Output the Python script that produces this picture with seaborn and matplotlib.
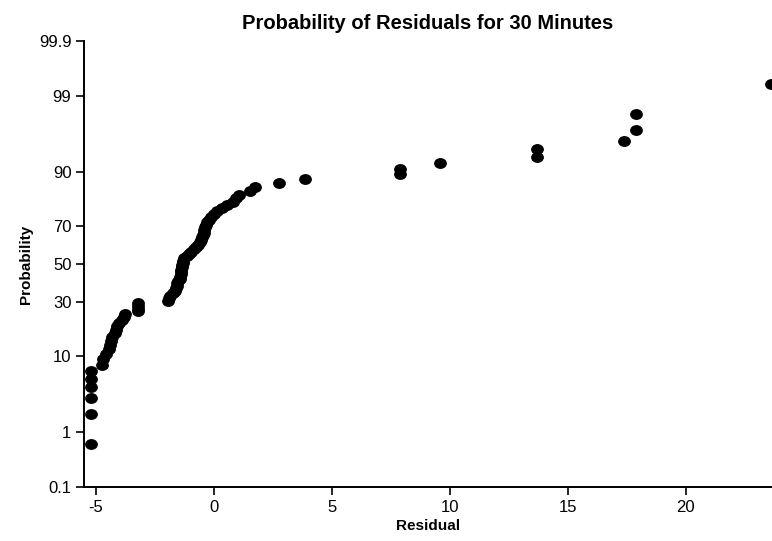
import numpy as np
import matplotlib
matplotlib.use('Agg')
import matplotlib.pyplot as plt
from matplotlib.path import Path
import seaborn as sns
from statistics import NormalDist

# sorted residuals (30 minute run)
residuals = [
    -5.2, -5.2, -5.2, -5.2, -5.2, -5.2,
    -4.75, -4.7, -4.55, -4.45, -4.4, -4.35, -4.3, -4.2, -4.15, -4.1,
    -4.0, -3.9, -3.8, -3.75,
    -3.2, -3.2, -3.2, -3.2,
    -1.95, -1.9, -1.85, -1.75, -1.65, -1.6, -1.55, -1.55, -1.5, -1.45,
    -1.45, -1.4, -1.4, -1.38, -1.35, -1.35, -1.3, -1.3, -1.25, -1.15,
    -1.05, -0.95, -0.85, -0.75, -0.65, -0.6, -0.55, -0.5, -0.45, -0.42,
    -0.4, -0.38, -0.35, -0.3, -0.2, -0.1, 0.0, 0.15, 0.35, 0.55,
    0.8, 0.95, 1.05, 1.55, 1.75, 2.75, 3.85, 7.9, 7.9, 9.6,
    13.7, 13.7, 17.4, 17.9, 17.9, 23.6,
]
prob_ticks = [0.1, 1, 10, 30, 50, 70, 90, 99, 99.9]
prob_labels = ['0.1', '1', '10', '30', '50', '70', '90', '99', '99.9']
x_ticks = [-5, 0, 5, 10, 15, 20]

n = len(residuals)
# plotting positions (i - 0.5) / n in percent
probability = [(i + 0.5) / n * 100 for i in range(n)]

nd = NormalDist()


def probit(p):
    p = np.clip(np.asarray(p, float), 1e-9, 100 - 1e-9)
    return np.vectorize(lambda v: nd.inv_cdf(v / 100), otypes=[float])(p)


def probit_inv(z):
    z = np.asarray(z, float)
    return np.vectorize(lambda v: nd.cdf(v) * 100, otypes=[float])(z)


sns.set_style('ticks')
plt.rcParams['font.family'] = ['Liberation Sans', 'DejaVu Sans']
plt.rcParams['text.color'] = 'black'
plt.rcParams['axes.labelcolor'] = 'black'
plt.rcParams['xtick.color'] = 'black'
plt.rcParams['ytick.color'] = 'black'

fig = plt.figure(figsize=(7.72, 5.41), dpi=100)
ax = fig.add_axes([0.1088, 0.0998, 0.8912, 0.8244])

# slightly flattened round marker
circ = Path.unit_circle()
ell = Path(circ.vertices * [1.0, 0.85], circ.codes)

sns.scatterplot(x=residuals, y=probability, ax=ax, marker=ell, s=85,
                color='black', edgecolor='black', linewidth=0)

ax.set_yscale('function', functions=(probit, probit_inv))
ax.set_ylim(0.1, 99.9)
ax.set_xlim(-5.5, 23.65)
ax.set_yticks(prob_ticks)
ax.set_yticklabels(prob_labels)
ax.set_xticks(x_ticks)
ax.set_xticklabels([str(t) for t in x_ticks])
ax.minorticks_off()

sns.despine(ax=ax)
for side in ['left', 'bottom']:
    ax.spines[side].set_linewidth(1.4)
    ax.spines[side].set_color('black')
ax.tick_params(axis='both', direction='out', length=6, width=1.2,
               color='black', labelcolor='black', labelsize=12, pad=3)

ax.set_title('Probability of Residuals for 30 Minutes', fontsize=14.5,
             fontweight='bold', pad=9)
ax.set_xlabel('Residual', fontsize=11, fontweight='bold', labelpad=3)
ax.set_ylabel('Probability', fontsize=11, fontweight='bold', labelpad=4)

fig.savefig('out.png', dpi=100)
